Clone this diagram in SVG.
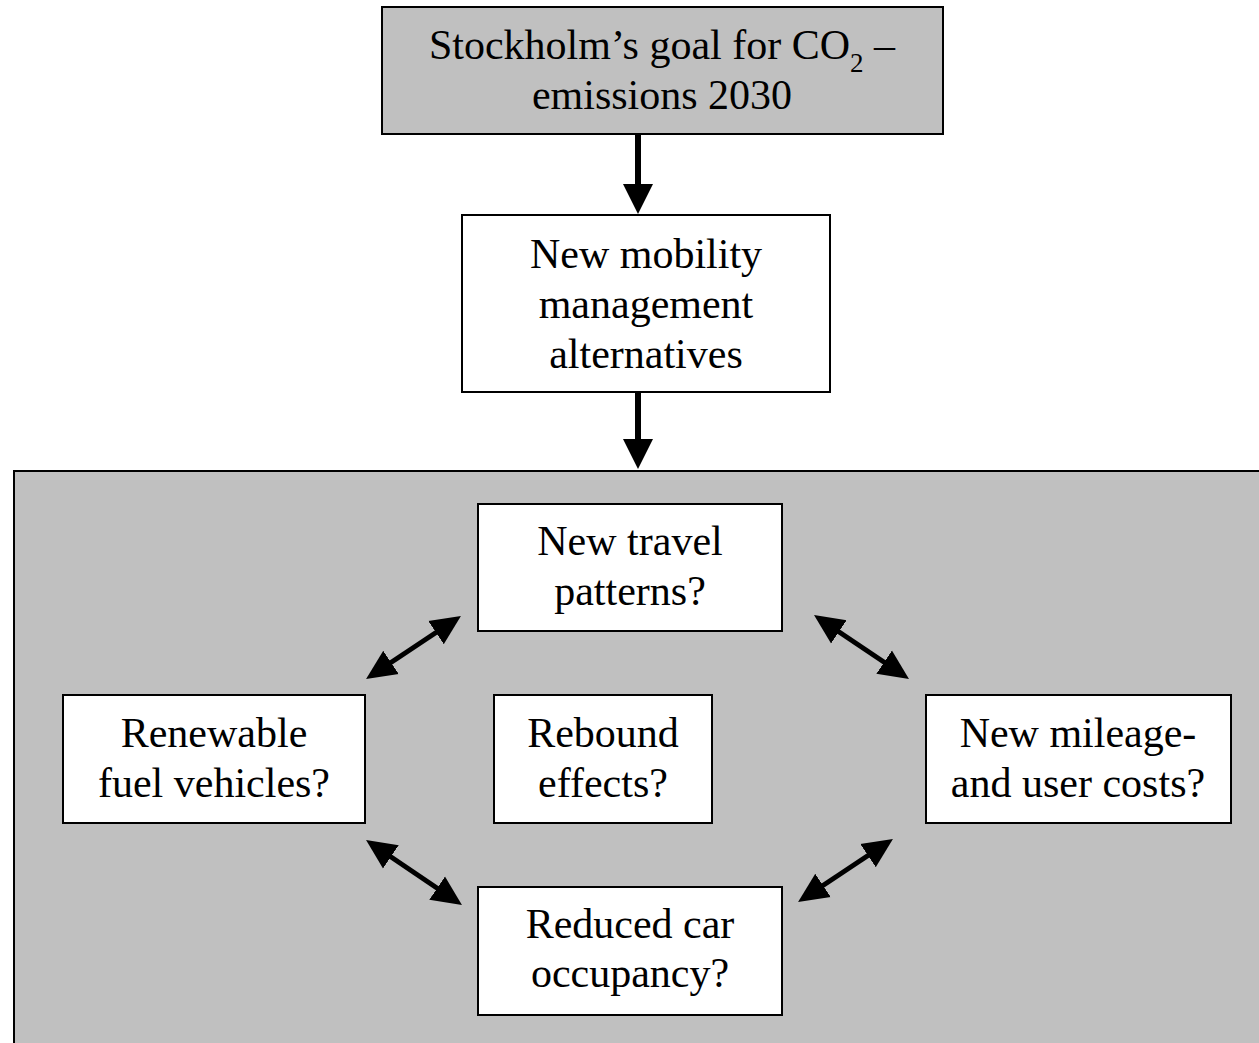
<svg xmlns="http://www.w3.org/2000/svg" width="1259" height="1043" viewBox="0 0 1259 1043">
  <style>
    .box { fill: #ffffff; stroke: #000000; stroke-width: 2; }
    .gray { fill: #c0c0c0; stroke: #000000; stroke-width: 2; }
    .t { font-family: "Liberation Serif", "Times New Roman", serif; font-size: 42px; fill: #000000; text-anchor: middle; }
    .conn { stroke: #000000; fill: none; }
  </style>
  <defs>
    <marker id="ah" markerUnits="userSpaceOnUse" markerWidth="32" markerHeight="32" viewBox="0 -16 32 32" refX="10" refY="0" orient="auto-start-reverse">
      <path d="M0,-14 L30,0 L0,14 z" fill="#000000"/>
    </marker>
    <marker id="av" markerUnits="userSpaceOnUse" markerWidth="32" markerHeight="32" viewBox="0 -16 32 32" refX="10" refY="0" orient="auto">
      <path d="M0,-15 L30,0 L0,15 z" fill="#000000"/>
    </marker>
  </defs>

  <rect id="background" x="0" y="0" width="1259" height="1043" fill="#ffffff"/>

  <g id="container">
    <rect class="gray" x="14" y="471" width="1260" height="600"/>
  </g>

  <g id="goal">
    <rect class="gray" x="382" y="7" width="561" height="127"/>
    <text class="t" x="662" y="59">Stockholm’s goal for CO<tspan font-size="27" dy="13">2</tspan><tspan dy="-13"> –</tspan></text>
    <text class="t" x="662" y="109">emissions 2030</text>
  </g>

  <g id="mobility">
    <rect class="box" x="462" y="215" width="368" height="177"/>
    <text class="t" x="646" y="268">New mobility</text>
    <text class="t" x="646" y="318">management</text>
    <text class="t" x="646" y="368">alternatives</text>
  </g>

  <g id="travel">
    <rect class="box" x="478" y="504" width="304" height="127"/>
    <text class="t" x="630" y="555">New travel</text>
    <text class="t" x="630" y="605">patterns?</text>
  </g>

  <g id="renewable">
    <rect class="box" x="63" y="695" width="302" height="128"/>
    <text class="t" x="214" y="747">Renewable</text>
    <text class="t" x="214" y="797">fuel vehicles?</text>
  </g>

  <g id="rebound">
    <rect class="box" x="494" y="695" width="218" height="128"/>
    <text class="t" x="603" y="747">Rebound</text>
    <text class="t" x="603" y="797">effects?</text>
  </g>

  <g id="mileage">
    <rect class="box" x="926" y="695" width="305" height="128"/>
    <text class="t" x="1078" y="747">New mileage-</text>
    <text class="t" x="1078" y="797">and user costs?</text>
  </g>

  <g id="occupancy">
    <rect class="box" x="478" y="887" width="304" height="128"/>
    <text class="t" x="630" y="938">Reduced car</text>
    <text class="t" x="630" y="987">occupancy?</text>
  </g>

  <g id="connectors">
    <line class="conn" x1="638" y1="135" x2="638" y2="194" stroke-width="6" marker-end="url(#av)"/>
    <line class="conn" x1="638" y1="392" x2="638" y2="449" stroke-width="6" marker-end="url(#av)"/>
    <line class="conn" x1="382.7" y1="668" x2="444.3" y2="627" stroke-width="5" marker-start="url(#ah)" marker-end="url(#ah)"/>
    <line class="conn" x1="830.6" y1="626.2" x2="892.4" y2="667.8" stroke-width="5" marker-start="url(#ah)" marker-end="url(#ah)"/>
    <line class="conn" x1="382.6" y1="851.2" x2="445.4" y2="893.8" stroke-width="5" marker-start="url(#ah)" marker-end="url(#ah)"/>
    <line class="conn" x1="814.7" y1="891" x2="876.3" y2="850" stroke-width="5" marker-start="url(#ah)" marker-end="url(#ah)"/>
  </g>
</svg>
